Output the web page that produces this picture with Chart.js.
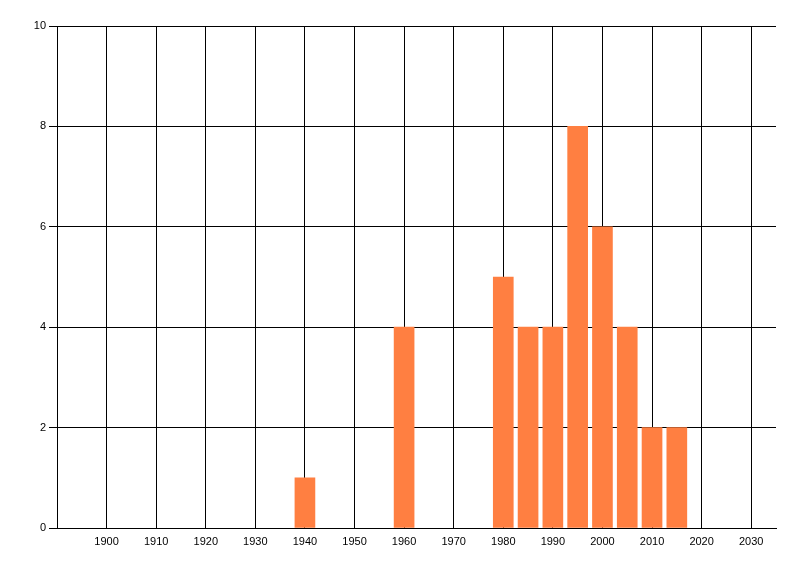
<!DOCTYPE html>
<html>
<head>
<meta charset="utf-8">
<script src="https://cdn.jsdelivr.net/npm/chart.js@4"></script>
<style>
    html, body { margin: 0; padding: 0; background: #fff; }
    #wrap { width: 800px; height: 576px; }
</style>
</head>
<body>
<div id="wrap"><canvas id="chart"></canvas></div>
<script>
// values
const years = [1940, 1960, 1980, 1985, 1990, 1995, 2000, 2005, 2010, 2015];
const counts = [1, 4, 5, 4, 4, 8, 6, 4, 2, 2];
const xTicks = [1900, 1910, 1920, 1930, 1940, 1950, 1960, 1970, 1980, 1990, 2000, 2010, 2020, 2030];
const yTicks = [0, 2, 4, 6, 8, 10];

const points = years.map((y, i) => ({ x: y, y: counts[i] }));

new Chart(document.getElementById('chart'), {
    type: 'bar',
    data: {
        datasets: [{
            data: points,
            backgroundColor: '#FF7F41',
            borderWidth: 0,
            barThickness: 20,
        }]
    },
    options: {
        responsive: true,
        maintainAspectRatio: false,
        animation: false,
        layout: { padding: { top: 26, right: 24, left: 0, bottom: 0 } },
        plugins: {
            legend: { display: false },
            tooltip: { enabled: false }
        },
        scales: {
            x: {
                type: 'linear',
                min: 1890,
                max: 2035,
                offset: false,
                afterBuildTicks: (scale) => {
                    scale.ticks = xTicks.map(v => ({ value: v }));
                },
                afterFit: (scale) => { scale.height = 48; },
                grid: { color: '#000', lineWidth: 1, drawTicks: false, offset: false },
                border: { color: '#000', width: 1 },
                ticks: {
                    color: '#000',
                    padding: 7,
                    maxRotation: 0,
                    autoSkip: false,
                    font: { family: 'Liberation Sans', size: 11 },
                    callback: (v) => String(v)
                }
            },
            y: {
                min: 0,
                max: 10,
                afterBuildTicks: (scale) => {
                    scale.ticks = yTicks.map(v => ({ value: v }));
                },
                afterFit: (scale) => { scale.width = 57; },
                grid: { color: '#000', lineWidth: 1, tickLength: 8 },
                border: { color: '#000', width: 1 },
                ticks: {
                    color: '#000',
                    padding: 3,
                    font: { family: 'Liberation Sans', size: 11 }
                }
            }
        }
    }
});
</script>
</body>
</html>
